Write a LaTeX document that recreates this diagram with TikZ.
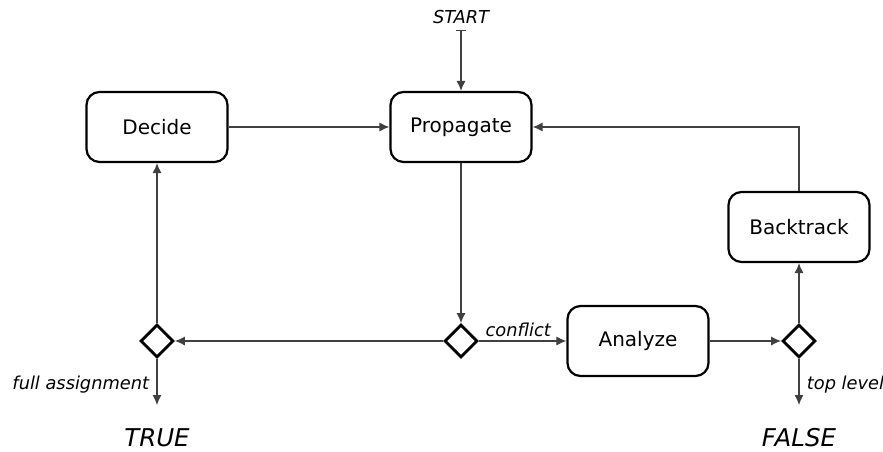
\documentclass[tikz,border=0pt]{standalone}
\usepackage{fontspec}
\setmainfont{DejaVu Sans}
\usetikzlibrary{arrows.meta,shapes.geometric}
\begin{document}
\begin{tikzpicture}[x=1pt,y=-1pt,
  stepbox/.style={draw=black,line width=2.2pt,rounded corners=13pt,
    minimum width=141pt,minimum height=70pt,inner sep=0pt,
    font=\fontsize{20}{24}\selectfont},
  choice/.style={diamond,draw=black,line width=2.8pt,minimum width=33pt,
    minimum height=33pt,inner sep=0pt,aspect=1},
  flow/.style={draw=black!75,line width=1.1pt,-{Latex[length=10pt,width=9pt]}},
  lbl/.style={font=\fontsize{17.8}{21}\selectfont\itshape},
  result/.style={font=\fontsize{24.5}{29}\selectfont\itshape,inner sep=0pt}]
\useasboundingbox (0,0) rectangle (883,452);

% process steps
\node[stepbox] (propagate) at (461,127) {Propagate};
\node[stepbox] (decide)    at (157,127) {Decide};
\node[stepbox] (backtrack) at (799,227) {Backtrack};
\node[stepbox] (analyze)   at (638,341) {Analyze};

% decision points
\node[choice] (dleft)  at (157,341) {};
\node[choice] (dmid)   at (461,341) {};
\node[choice] (dright) at (799,341) {};

% entry and exits
\node[lbl] (start) at (461,17) {START};
\coordinate (entry) at (461,30);
\coordinate (sat)   at (157,405);
\coordinate (unsat) at (799,405);
\node[result] (true)  at (157,438) {TRUE};
\node[result] (false) at (799,438) {FALSE};

% connectors
\draw[flow,{Bar[width=10pt]}-{Latex[length=10pt,width=9pt]}] (entry) -- (propagate.north);
\draw[flow] (decide.east) -- (propagate.west);
\draw[flow] (propagate.south) -- (dmid.north);
\draw[flow] (dmid.west) -- (dleft.east);
\draw[flow] (dleft.north) -- (decide.south);
\draw[flow] (dleft.south) -- (sat)
  node[lbl,pos=0.55,left=4pt] {full assignment};
\draw[flow] (dmid.east) -- (analyze.west)
  node[lbl,pos=0.45,above=0pt] {conflict};
\draw[flow] (analyze.east) -- (dright.west);
\draw[flow] (dright.north) -- (backtrack.south);
\draw[flow] (dright.south) -- (unsat)
  node[lbl,pos=0.55,right=4pt] {top level};
\draw[flow] (backtrack.north) |- (propagate.east);
\end{tikzpicture}
\end{document}
